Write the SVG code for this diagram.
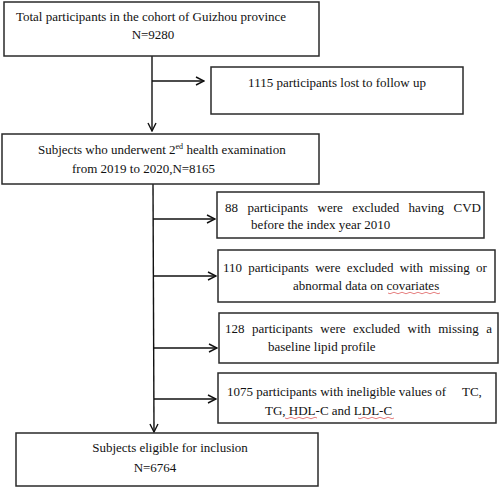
<svg xmlns="http://www.w3.org/2000/svg" width="500" height="489" viewBox="0 0 500 489">
<style>
.box{fill:#fff;stroke:#2a2a2a;stroke-width:1.5}
.t{font-family:"Liberation Serif","Times New Roman",serif;font-size:13px;fill:#111}
.c{text-anchor:middle}
.ln{stroke:#111;stroke-width:1.4;fill:none}
.sq{stroke:#e06060;stroke-width:0.8;fill:none}
</style>
<defs>
<marker id="ah" markerWidth="10" markerHeight="10" refX="9" refY="5" orient="auto" markerUnits="userSpaceOnUse">
<path d="M1,1 L9,5 L1,9" fill="none" stroke="#111" stroke-width="1.4"/>
</marker>
</defs>
<rect width="500" height="489" fill="#fff"/>
<g id="connectors">
<line class="ln" x1="152" y1="56" x2="152" y2="131" marker-end="url(#ah)"/>
<line class="ln" x1="152" y1="81" x2="204" y2="81" marker-end="url(#ah)"/>
<line class="ln" x1="153" y1="184" x2="154" y2="432" marker-end="url(#ah)"/>
<line class="ln" x1="153" y1="219" x2="215" y2="219" marker-end="url(#ah)"/>
<line class="ln" x1="153" y1="276" x2="216" y2="276" marker-end="url(#ah)"/>
<line class="ln" x1="154" y1="348" x2="217" y2="348" marker-end="url(#ah)"/>
<line class="ln" x1="154" y1="399" x2="216" y2="399" marker-end="url(#ah)"/>
</g>
<g id="n1">
<rect class="box" x="4" y="2" width="315" height="54"/>
<text class="t c" x="151" y="21">Total participants in the cohort of Guizhou province</text>
<text class="t c" x="153" y="39">N=9280</text>
</g>
<g id="n2">
<rect class="box" x="211" y="67" width="252" height="47"/>
<text class="t c" x="337" y="87">1115 participants lost to follow up</text>
</g>
<g id="n3">
<rect class="box" x="2" y="134" width="317" height="50"/>
<text class="t" x="38" y="154">Subjects who underwent 2<tspan font-size="8" dy="-5">ed</tspan><tspan dy="5"> health examination</tspan></text>
<text class="t" x="72" y="173">from 2019 to 2020,N=8165</text>
</g>
<g id="n4">
<rect class="box" x="217" y="192" width="267" height="46"/>
<text class="t" x="225" y="212" word-spacing="6.2">88 participants were excluded having CVD</text>
<text class="t" x="251" y="229">before the index year 2010</text>
</g>
<g id="n5">
<rect class="box" x="218" y="250" width="277" height="52"/>
<text class="t" x="223" y="272" word-spacing="3">110 participants were excluded with missing or</text>
<text class="t" x="293" y="290">abnormal data on covariates</text>
<path class="sq" d="M388,293 q2,1.5 4,0 t4,0 t4,0 t4,0 t4,0 t4,0 t4,0 t4,0 t4,0 t4,0 t4,0 t4,0 t4,0"/>
</g>
<g id="n6">
<rect class="box" x="219" y="313" width="279" height="50"/>
<text class="t" x="225" y="333" word-spacing="4.3">128 participants were excluded with missing a</text>
<text class="t" x="268" y="351">baseline lipid profile</text>
</g>
<g id="n7">
<rect class="box" x="218" y="373" width="278" height="50"/>
<text class="t" x="227" y="396">1075 participants with ineligible values of</text>
<text class="t" x="462" y="396">TC,</text>
<text class="t" x="265" y="415">TG, HDL-C and LDL-C</text>
<path class="sq" d="M285,418 q2,1.5 4,0 t4,0 t4,0 t4,0 t4,0 t4,0 t4,0 t4,0"/>
<path class="sq" d="M358,418 q2,1.5 4,0 t4,0 t4,0 t4,0 t4,0 t4,0 t4,0 t4,0 t4,0"/>
</g>
<g id="n8">
<rect class="box" x="16" y="433" width="302" height="53"/>
<text class="t c" x="170" y="452">Subjects eligible for inclusion</text>
<text class="t c" x="155" y="472">N=6764</text>
</g>
</svg>
